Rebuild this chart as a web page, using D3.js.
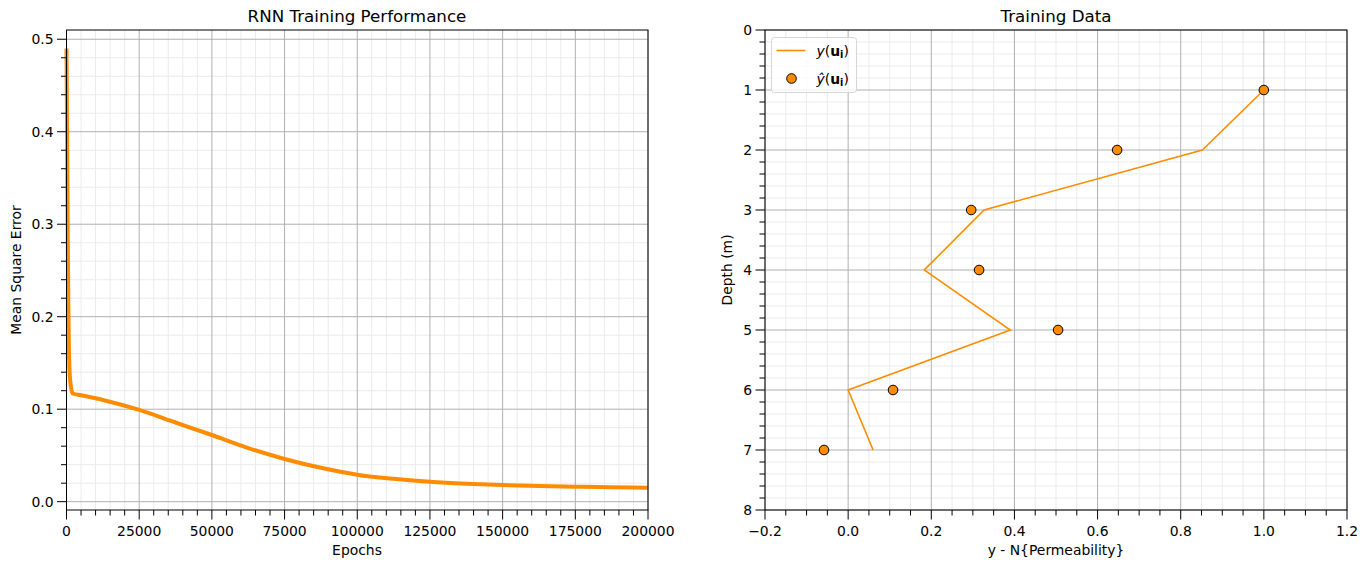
<!DOCTYPE html>
<html>
<head>
<meta charset="utf-8">
<script src="https://cdn.jsdelivr.net/npm/d3@7"></script>
<style>
  body { margin: 0; background: #fff; }
  svg text { font-family: "DejaVu Sans", sans-serif; fill: #000; }
</style>
</head>
<body>
<div id="chart"></div>
<script>
// Left panel: MSE over training epochs
const epochs = [0, 200, 400, 600, 800, 1000, 1300, 1700, 2200, 5000, 12500, 25000, 37500, 50000,
  62500, 75000, 87500, 100000, 112500, 125000, 137500, 150000, 162500, 175000, 187500, 200000];
const mse = [0.49, 0.40, 0.30, 0.22, 0.17, 0.145, 0.13, 0.121, 0.117, 0.115, 0.110, 0.0992, 0.0856, 0.0721,
  0.0580, 0.0462, 0.0366, 0.0292, 0.0247, 0.0216, 0.0195, 0.0180, 0.0170, 0.0162, 0.0156, 0.0151];
const epochTicks = [0, 25000, 50000, 75000, 100000, 125000, 150000, 175000, 200000];
const mseTicks = [0.0, 0.1, 0.2, 0.3, 0.4, 0.5];

// Right panel: training data vs depth
const depth = [1, 2, 3, 4, 5, 6, 7];
const yTrue = [1.0, 0.852, 0.327, 0.183, 0.39, 0.0, 0.06];
const yPred = [1.0, 0.647, 0.296, 0.315, 0.505, 0.108, -0.058];
const permTicks = [-0.2, 0.0, 0.2, 0.4, 0.6, 0.8, 1.0, 1.2];
const depthTicks = [0, 1, 2, 3, 4, 5, 6, 7, 8];

const width = 1367, height = 568;
const orange = "#ff8c00";

const svg = d3.select("#chart").append("svg")
    .attr("width", width).attr("height", height);

const plotTop = 30, plotBottom = 510;

// grid lines behind the marks
function grid(x, y, xMajor, xMinor, yMajor, yMinor) {
    const g = svg.append("g");
    const [x0, x1] = x.range(), [y0, y1] = y.range();
    const yT = Math.min(y0, y1), yB = Math.max(y0, y1);

    g.selectAll(".mgx").data(xMinor).join("line")
        .attr("x1", d => x(d)).attr("x2", d => x(d)).attr("y1", yT).attr("y2", yB)
        .attr("stroke", "#ebebeb").attr("stroke-width", 1);
    g.selectAll(".mgy").data(yMinor).join("line")
        .attr("y1", d => y(d)).attr("y2", d => y(d)).attr("x1", x0).attr("x2", x1)
        .attr("stroke", "#ebebeb").attr("stroke-width", 1);
    g.selectAll(".gx").data(xMajor).join("line")
        .attr("x1", d => x(d)).attr("x2", d => x(d)).attr("y1", yT).attr("y2", yB)
        .attr("stroke", "#b0b0b0").attr("stroke-width", 1);
    g.selectAll(".gy").data(yMajor).join("line")
        .attr("y1", d => y(d)).attr("y2", d => y(d)).attr("x1", x0).attr("x2", x1)
        .attr("stroke", "#b0b0b0").attr("stroke-width", 1);
}

// frame, ticks and tick labels on top
function axes(x, y, xMajor, xMinor, yMajor, yMinor, xFmt, yFmt) {
    const g = svg.append("g");
    const [x0, x1] = x.range(), [y0, y1] = y.range();
    const yT = Math.min(y0, y1), yB = Math.max(y0, y1);

    g.append("rect").attr("x", x0).attr("y", yT).attr("width", x1 - x0).attr("height", yB - yT)
        .attr("fill", "none").attr("stroke", "#000").attr("stroke-width", 1);

    g.selectAll(".tx").data(xMajor).join("line")
        .attr("x1", d => x(d)).attr("x2", d => x(d)).attr("y1", yB).attr("y2", yB + 9.5)
        .attr("stroke", "#000");
    g.selectAll(".mtx").data(xMinor).join("line")
        .attr("x1", d => x(d)).attr("x2", d => x(d)).attr("y1", yB).attr("y2", yB + 5.5)
        .attr("stroke", "#000");
    g.selectAll(".ty").data(yMajor).join("line")
        .attr("y1", d => y(d)).attr("y2", d => y(d)).attr("x1", x0).attr("x2", x0 - 9.5)
        .attr("stroke", "#000");
    g.selectAll(".mty").data(yMinor).join("line")
        .attr("y1", d => y(d)).attr("y2", d => y(d)).attr("x1", x0).attr("x2", x0 - 5.5)
        .attr("stroke", "#000");

    g.selectAll(".lx").data(xMajor).join("text")
        .attr("x", d => x(d)).attr("y", yB + 26)
        .attr("text-anchor", "middle").style("font-size", "13.9px")
        .text(xFmt);
    g.selectAll(".ly").data(yMajor).join("text")
        .attr("x", x0 - 13).attr("y", d => y(d) + 5)
        .attr("text-anchor", "end").style("font-size", "13.9px")
        .text(yFmt);
}

function steps(a, b, step) {
    const out = [];
    const n = Math.round((b - a) / step);
    for (let i = 0; i <= n; i++) out.push(+(a + i * step).toFixed(6));
    return out;
}

// ---------- Left chart ----------
const xL = d3.scaleLinear().domain([0, 200000]).range([66.5, 648]);
const yL = d3.scaleLinear().domain([-0.009, 0.51]).range([plotBottom, plotTop]);

const xLMinor = steps(0, 200000, 5000).filter(d => d % 25000 !== 0);
const yLMinor = steps(0, 0.5, 0.02).filter(d => Math.abs(d * 10 - Math.round(d * 10)) > 1e-6);

grid(xL, yL, epochTicks, xLMinor, mseTicks, yLMinor);

svg.append("path")
    .datum(epochs.map((e, i) => [e, mse[i]]))
    .attr("fill", "none")
    .attr("stroke", orange)
    .attr("stroke-width", 4)
    .attr("stroke-linejoin", "round")
    .attr("d", d3.line().x(d => xL(d[0])).y(d => yL(d[1])).curve(d3.curveMonotoneX));

axes(xL, yL, epochTicks, xLMinor, mseTicks, yLMinor, d => d3.format("d")(d), d => d3.format(".1f")(d));

svg.append("text").attr("x", 357).attr("y", 22).attr("text-anchor", "middle")
    .style("font-size", "16.7px").text("RNN Training Performance");
svg.append("text").attr("x", 357).attr("y", 555).attr("text-anchor", "middle")
    .style("font-size", "13.9px").text("Epochs");
svg.append("text").attr("transform", "translate(21,270) rotate(-90)").attr("text-anchor", "middle")
    .style("font-size", "13.9px").text("Mean Square Error");

// ---------- Right chart ----------
const xR = d3.scaleLinear().domain([-0.2, 1.2]).range([765, 1347]);
const yR = d3.scaleLinear().domain([0, 8]).range([plotTop, plotBottom]);

const xRMinor = steps(-0.2, 1.2, 0.05).filter(d => Math.abs(d * 5 - Math.round(d * 5)) > 1e-6);
const yRMinor = steps(0, 8, 0.2).filter(d => Math.abs(d - Math.round(d)) > 1e-6);

grid(xR, yR, permTicks, xRMinor, depthTicks, yRMinor);

svg.append("path")
    .datum(depth.map((d, i) => [yTrue[i], d]))
    .attr("fill", "none")
    .attr("stroke", orange)
    .attr("stroke-width", 1.6)
    .attr("d", d3.line().x(d => xR(d[0])).y(d => yR(d[1])));

svg.selectAll(".pt").data(depth.map((d, i) => [yPred[i], d])).join("circle")
    .attr("cx", d => xR(d[0])).attr("cy", d => yR(d[1])).attr("r", 4.8)
    .attr("fill", orange).attr("stroke", "#000").attr("stroke-width", 1);

axes(xR, yR, permTicks, xRMinor, depthTicks, yRMinor,
    d => (d < 0 ? "\u2212" + d3.format(".1f")(-d) : d3.format(".1f")(d)), d => d3.format("d")(d));

svg.append("text").attr("x", 1056).attr("y", 22).attr("text-anchor", "middle")
    .style("font-size", "16.7px").text("Training Data");
svg.append("text").attr("x", 1056).attr("y", 555).attr("text-anchor", "middle")
    .style("font-size", "13.9px").text("y - N{Permeability}");
svg.append("text").attr("transform", "translate(732,270) rotate(-90)").attr("text-anchor", "middle")
    .style("font-size", "13.9px").text("Depth (m)");

// legend
const leg = svg.append("g").attr("transform", "translate(771.5,37.5)");
leg.append("rect").attr("width", 85).attr("height", 55).attr("rx", 3)
    .attr("fill", "#fff").attr("fill-opacity", 0.8).attr("stroke", "#d6d6d6");
leg.append("line").attr("x1", 5).attr("x2", 34).attr("y1", 13).attr("y2", 13)
    .attr("stroke", orange).attr("stroke-width", 1.6);
leg.append("circle").attr("cx", 20).attr("cy", 41).attr("r", 4.8)
    .attr("fill", orange).attr("stroke", "#000");

function legText(yy, yChar) {
    const t = leg.append("text").attr("x", 45).attr("y", yy).style("font-size", "13.9px");
    t.append("tspan").style("font-style", "italic").text(yChar);
    t.append("tspan").text("(");
    t.append("tspan").style("font-weight", "bold").text("u");
    t.append("tspan").style("font-weight", "bold").style("font-size", "9.7px").attr("dy", 2.5).text("i");
    t.append("tspan").attr("dy", -2.5).text(")");
}
legText(18, "y");
legText(46, "\u0177");
</script>
</body>
</html>
